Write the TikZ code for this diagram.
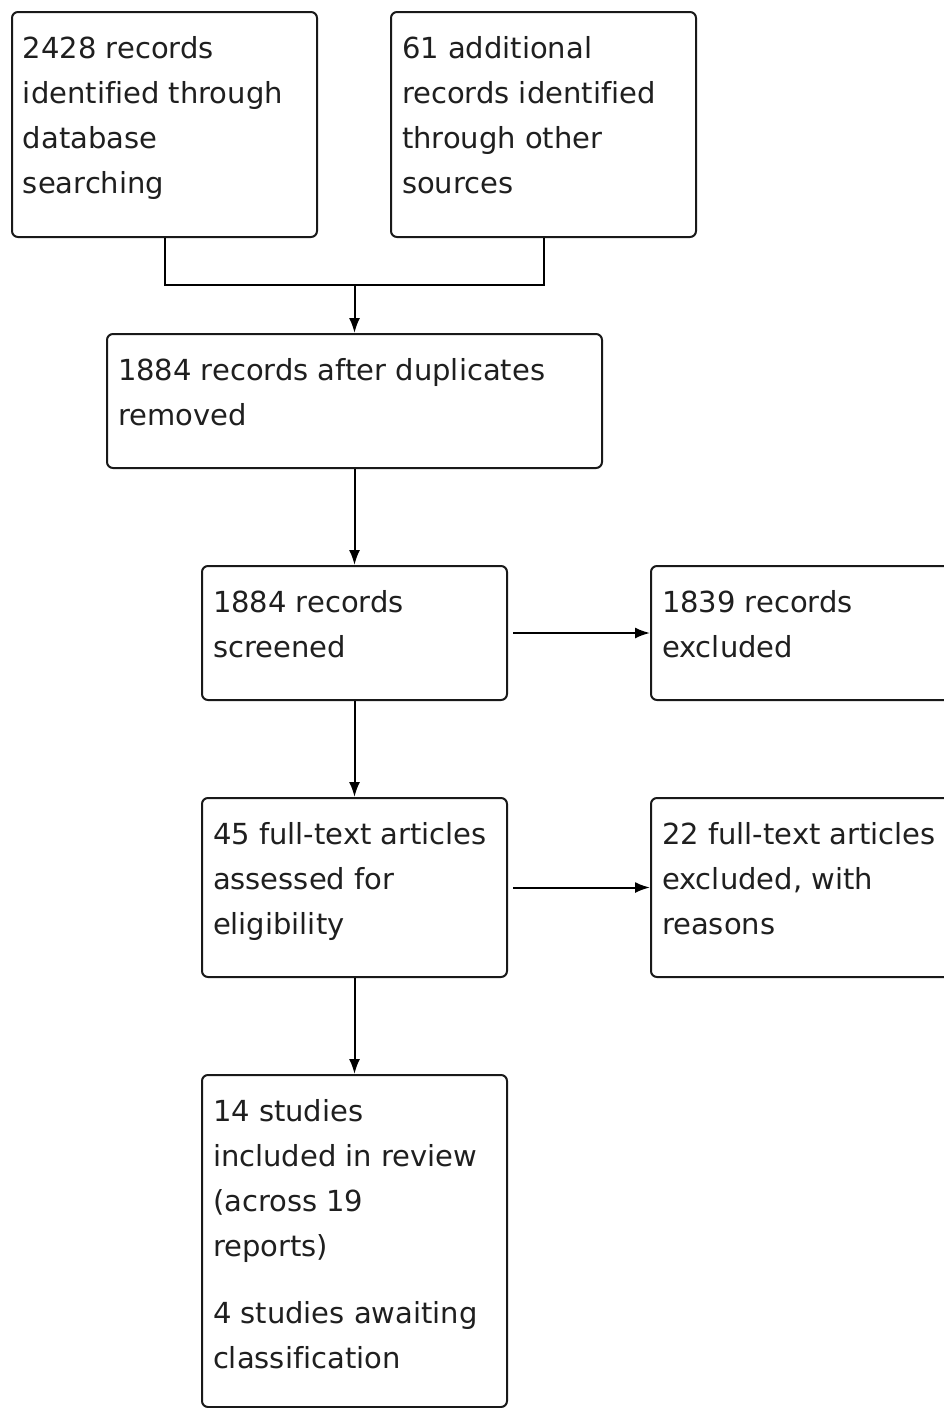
\documentclass[tikz,border=0pt]{standalone}
\usepackage{fontspec}
\setmainfont{DejaVu Sans}[Ligatures=NoCommon]
\usetikzlibrary{arrows.meta}
\newcommand{\bx}[3]{\parbox[c][#2pt][t]{#1pt}{\raggedright\fontsize{29}{45}\selectfont\rule{0pt}{46pt}#3}}
\begin{document}
\begin{tikzpicture}[x=1pt,y=-1pt,
  box/.style={draw=black!90, line width=2pt, rounded corners=6pt, fill=white,
    inner xsep=11pt, inner ysep=0pt, anchor=north west, text=black!88},
  conn/.style={draw=black, line width=2pt},
  arr/.style={conn, -{Latex[length=15pt,width=11pt]}}]
\useasboundingbox (0,0) rectangle (944,1408);
\node[box] (A) at (11,11) {\bx{283}{225}{2428 records\\identified through\\database\\searching}};
\node[box] (B) at (390,11) {\bx{283}{225}{61 additional\\records identified\\through other\\sources}};
\node[box] (C) at (106,333) {\bx{473}{134}{1884 records after duplicates\\removed}};
\node[box] (D) at (201,565) {\bx{283}{134}{1884 records\\screened}};
\node[box] (E) at (650,565) {\bx{283}{134}{1839 records\\excluded}};
\node[box] (F) at (201,797) {\bx{283}{179}{45 full-text articles\\assessed for\\eligibility}};
\node[box] (G) at (650,797) {\bx{283}{179}{22 full-text articles\\excluded, with\\reasons}};
\node[box] (H) at (201,1074) {\bx{283}{332}{14 studies\\included in review\\(across 19\\reports)\\[22pt]4 studies awaiting\\classification}};
\coordinate (m) at (C.north |- 0,285);
\draw[conn] (A.south) |- (m) -| (B.south);
\draw[arr] (m) -- (C.north);
\draw[arr] (C.south) -- (D.north);
\draw[arr] ([xshift=5pt]D.east) -- (E.west);
\draw[arr] (D.south) -- (F.north);
\draw[arr] ([xshift=5pt]F.east) -- (G.west);
\draw[arr] (F.south) -- (H.north);
\end{tikzpicture}
\end{document}
